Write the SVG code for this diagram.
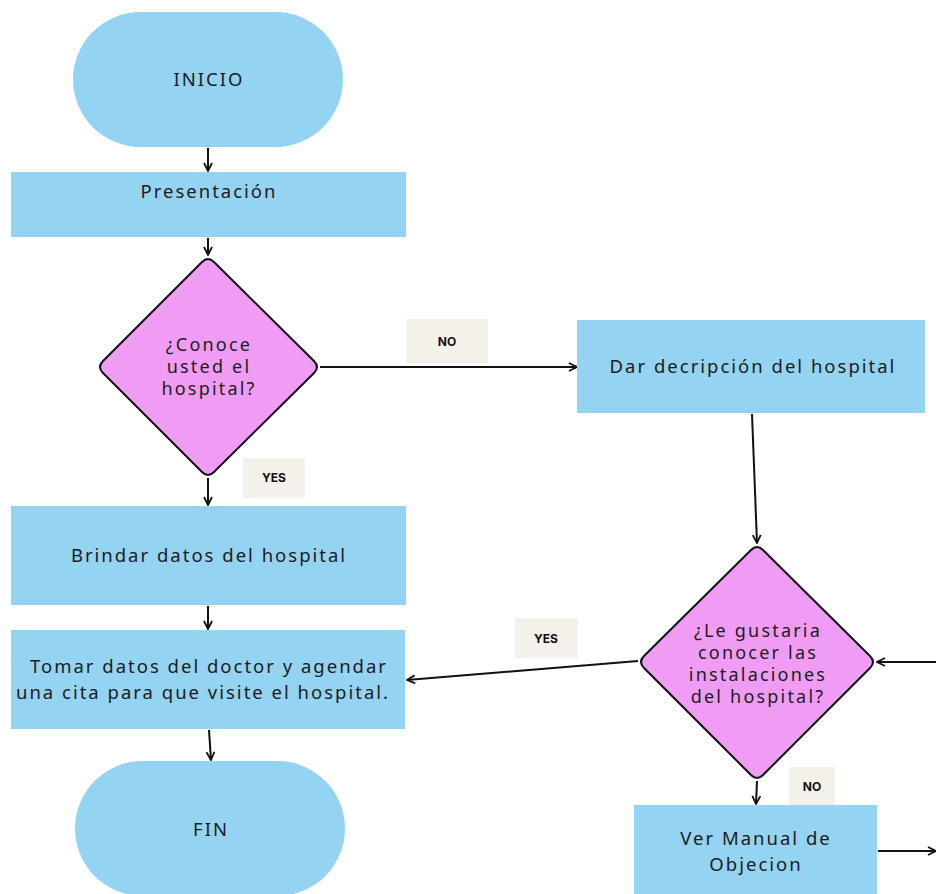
<svg xmlns="http://www.w3.org/2000/svg" width="936" height="894" viewBox="0 0 936 894">
<defs>
<style>
.blue{fill:#94d3f1}
.pink{fill:#f09cf5;stroke:#111;stroke-width:2;stroke-linejoin:round}
.t{font-family:"Noto Sans","DejaVu Sans",sans-serif;font-size:18.5px;fill:#1c1c1c;text-anchor:middle;letter-spacing:2px}
.d{font-size:18px;letter-spacing:2.2px}
.lb{fill:#f4f1ea}
.lt{font-family:"Inter","Liberation Sans",sans-serif;font-size:12px;font-weight:700;fill:#111;text-anchor:middle}
.c{stroke:#111;stroke-width:2;fill:none;marker-end:url(#ah)}
</style>
<marker id="ah" viewBox="0 0 10 10" refX="9" refY="5" markerWidth="5" markerHeight="5" orient="auto" markerUnits="strokeWidth">
<path d="M1,1 L9,5 L1,9" fill="none" stroke="#111" stroke-width="1.8"/>
</marker>
</defs>
<rect width="936" height="894" fill="#ffffff"/>
<g id="connectors">
<line class="c" x1="208" y1="148" x2="208" y2="171"/>
<line class="c" x1="208" y1="238" x2="208" y2="255"/>
<line class="c" x1="320" y1="367" x2="577" y2="367"/>
<line class="c" x1="752" y1="414" x2="757" y2="543"/>
<line class="c" x1="936" y1="662" x2="877" y2="662"/>
<line class="c" x1="638" y1="661" x2="407" y2="680"/>
<line class="c" x1="208" y1="478" x2="208" y2="505"/>
<line class="c" x1="208" y1="606" x2="208" y2="629"/>
<line class="c" x1="209" y1="730" x2="211" y2="760"/>
<line class="c" x1="757" y1="781" x2="756" y2="804"/>
<line class="c" x1="878" y1="851" x2="936" y2="851"/>
</g>
<g id="inicio">
<rect class="blue" x="73" y="12" width="270" height="135" rx="67.5"/>
<text class="t" x="209" y="86">INICIO</text>
</g>
<g id="presentacion">
<rect class="blue" x="11" y="172" width="395" height="65"/>
<text class="t" x="209" y="198">Presentación</text>
</g>
<g id="conoce">
<path class="pink" d="M202,262 Q208,256 214,262 L314,361 Q320,367 314,373 L214,472 Q208,478 202,472 L103,373 Q97,367 103,361 Z"/>
<text class="t d" x="209" y="351">¿Conoce</text>
<text class="t d" x="209" y="373">usted el</text>
<text class="t d" x="209" y="395">hospital?</text>
</g>
<g id="label-no-1">
<rect class="lb" x="406" y="319" width="82" height="44"/>
<text class="lt" x="447" y="346">NO</text>
</g>
<g id="label-yes-1">
<rect class="lb" x="243" y="458" width="62" height="40"/>
<text class="lt" x="274" y="482">YES</text>
</g>
<g id="descripcion">
<rect class="blue" x="577" y="320" width="348" height="93"/>
<text class="t" x="753" y="373">Dar decripción del hospital</text>
</g>
<g id="brindar">
<rect class="blue" x="11" y="506" width="395" height="99"/>
<text class="t" x="209" y="562">Brindar datos del hospital</text>
</g>
<g id="tomar">
<rect class="blue" x="11" y="630" width="394" height="99"/>
<text class="t" x="209" y="673">Tomar datos del doctor y agendar</text>
<text class="t" x="203" y="699">una cita para que visite el hospital.</text>
</g>
<g id="fin">
<rect class="blue" x="75" y="761" width="270" height="135" rx="67.5"/>
<text class="t" x="211" y="836">FIN</text>
</g>
<g id="gustaria">
<path class="pink" d="M751,550 Q757,544 763,550 L870,656 Q876,662 870,668 L763,775 Q757,781 751,775 L644,668 Q638,662 644,656 Z"/>
<text class="t d" x="758" y="637">¿Le gustaria</text>
<text class="t d" x="758" y="659">conocer las</text>
<text class="t d" x="758" y="681">instalaciones</text>
<text class="t d" x="758" y="703">del hospital?</text>
</g>
<g id="label-yes-2">
<rect class="lb" x="515" y="618" width="63" height="40"/>
<text class="lt" x="546" y="643">YES</text>
</g>
<g id="label-no-2">
<rect class="lb" x="789" y="767" width="46" height="38"/>
<text class="lt" x="812" y="791">NO</text>
</g>
<g id="manual">
<rect class="blue" x="634" y="805" width="243" height="95"/>
<text class="t" x="756" y="845">Ver Manual de</text>
<text class="t" x="756" y="871">Objecion</text>
</g>
</svg>
